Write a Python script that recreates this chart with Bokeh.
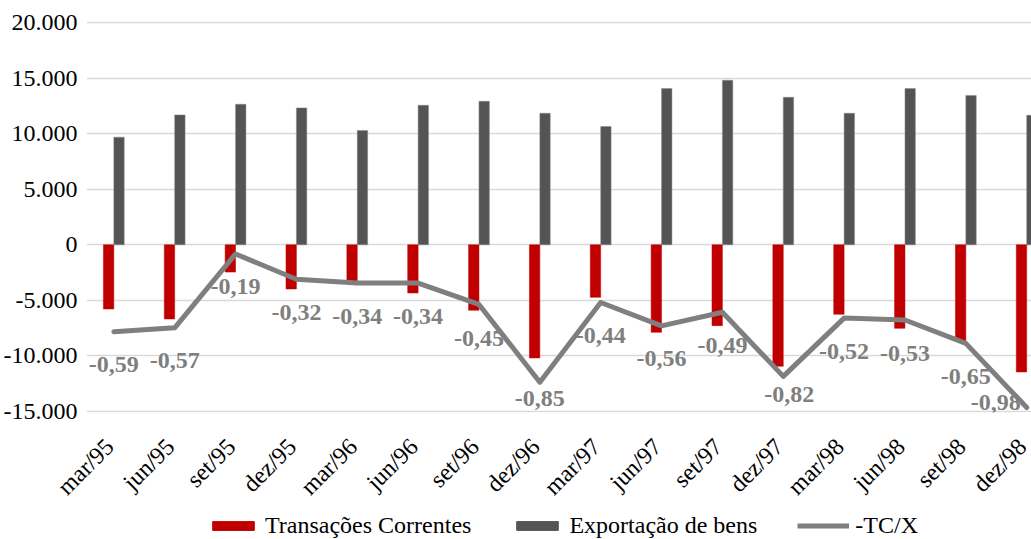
import math
from bokeh.plotting import figure
from bokeh.layouts import column
from bokeh.models import (Range1d, FixedTicker, Legend, LegendItem,
                          ColumnDataSource)
from bokeh.transform import dodge
from bokeh.embed import file_html
from bokeh.resources import INLINE
from bokeh.core.properties import value

categories = ["mar/95", "jun/95", "set/95", "dez/95", "mar/96", "jun/96",
              "set/96", "dez/96", "mar/97", "jun/97", "set/97", "dez/97",
              "mar/98", "jun/98", "set/98", "dez/98"]
transacoes = [-5780, -6680, -2460, -3980, -3330, -4340, -5900, -10190,
              -4730, -7880, -7280, -10940, -6260, -7520, -8660, -11450]
exportacao = [9690, 11690, 12650, 12320, 10290, 12560, 12920, 11840,
              10650, 14060, 14810, 13280, 11840, 14060, 13430, 11660]
tcx = [-0.59, -0.57, -0.19, -0.32, -0.34, -0.34, -0.45, -0.85,
       -0.44, -0.56, -0.49, -0.82, -0.52, -0.53, -0.65, -0.98]
tcx_labels = ["-0,59", "-0,57", "-0,19", "-0,32", "-0,34", "-0,34", "-0,45",
              "-0,85", "-0,44", "-0,56", "-0,49", "-0,82", "-0,52", "-0,53",
              "-0,65", "-0,98"]
y_ticks = [-15000, -10000, -5000, 0, 5000, 10000, 15000, 20000]
y_tick_labels = ["-15.000", "-10.000", "-5.000", "0", "5.000", "10.000",
                 "15.000", "20.000"]
series_names = ["Transações Correntes", "Exportação de bens", "-TC/X"]

# label placement (pixels, screen) -- layout only
label_dx = [0, 0, 0, 0, 0, 0, 0, 0, 0, 0, 0, 6, 0, 0, 0, -31]
label_dy = [33, 33, 33, 33, 33, 33, 34, 16, 33, 33, 33, 18, 33, 33, 33, -5]
x_label_shift = -0.07   # category-label anchor nudge (in category units)

RED, DARK, LINE = "#C00000", "#545454", "#7F7F7F"
FONT = "Liberation Serif"

idx = list(range(len(categories)))
src = ColumnDataSource(dict(idx=idx, tc=transacoes, ex=exportacao,
                            tcx=tcx, lab=tcx_labels,
                            dx=label_dx, dy=label_dy))

p = figure(frame_width=945, frame_height=391,
           x_range=Range1d(-0.449, 15.079), y_range=Range1d(-15100, 20100),
           output_backend="svg", toolbar_location=None,
           min_border_left=86, min_border_right=0, min_border_top=21,
           min_border_bottom=97)
p.extra_y_ranges = {"tcx": Range1d(-1.005714, 1.005714)}
p.outline_line_color = None
p.background_fill_color = "white"

bw = 0.171
p.vbar(x=dodge("idx", -bw / 2, range=p.x_range), top="tc", bottom=0,
       width=bw, source=src, fill_color=RED, line_color=RED, line_width=0.5)
p.vbar(x=dodge("idx", bw / 2, range=p.x_range), top="ex", bottom=0,
       width=bw, source=src, fill_color=DARK, line_color="#8a8a8a",
       line_width=0.5)
p.line(x="idx", y="tcx", source=src, y_range_name="tcx",
       line_color=LINE, line_width=5, line_join="round", line_cap="round")
p.text(x="idx", y="tcx", text="lab", source=src, y_range_name="tcx",
       text_align="center", text_baseline="middle",
       x_offset="dx", y_offset="dy",
       text_font=value(FONT), text_font_style="bold",
       text_font_size="24px", text_color=LINE)

# axes
tick_pos = [i + x_label_shift for i in idx]
xa = p.xaxis[0]
xa.ticker = FixedTicker(ticks=tick_pos)
xa.major_label_overrides = {t: c for t, c in zip(tick_pos, categories)}
xa.major_label_orientation = math.pi / 4
xa.axis_line_color = None
xa.major_tick_line_color = None
xa.minor_tick_line_color = None
xa.major_label_standoff = 24
xa.major_label_text_font = FONT
xa.major_label_text_font_size = "24px"
xa.major_label_text_color = "#000000"

ya = p.yaxis[0]
ya.ticker = FixedTicker(ticks=y_ticks)
ya.major_label_overrides = {t: l for t, l in zip(y_ticks, y_tick_labels)}
ya.axis_line_color = None
ya.major_tick_line_color = None
ya.minor_tick_line_color = None
ya.major_label_standoff = 3
ya.major_label_text_font = FONT
ya.major_label_text_font_size = "24px"
ya.major_label_text_color = "#000000"

p.xgrid.visible = False
p.ygrid.ticker = FixedTicker(ticks=y_ticks)
p.ygrid.grid_line_color = "#D9D9D9"
p.ygrid.grid_line_width = 1.5

# legend strip below the chart (hidden renderers only supply the swatches)
lg = figure(width=1031, height=30, x_range=Range1d(0, 1), y_range=Range1d(0, 1),
            output_backend="svg", toolbar_location=None,
            x_axis_location=None, y_axis_location=None, min_border=0)
lg.outline_line_color = None
lg.xgrid.visible = False
lg.ygrid.visible = False
g1 = lg.vbar(x="idx", top="tc", width=0.1, source=src,
             fill_color=RED, line_color=RED, visible=False)
g2 = lg.vbar(x="idx", top="ex", width=0.1, source=src,
             fill_color=DARK, line_color=DARK, visible=False)
g3 = lg.line(x="idx", y="tcx", source=src, line_color=LINE, line_width=5,
             line_cap="butt", visible=False)
legend = Legend(items=[LegendItem(label=series_names[0], renderers=[g1]),
                       LegendItem(label=series_names[1], renderers=[g2]),
                       LegendItem(label=series_names[2], renderers=[g3])],
                orientation="horizontal", location=(121, 2),
                border_line_color=None, background_fill_alpha=0,
                glyph_width=52, glyph_height=11, label_standoff=6,
                spacing=40, padding=0, margin=0,
                label_text_font=FONT, label_text_font_size="24px",
                label_text_color="#000000")
lg.add_layout(legend, "center")

layout = column(p, lg, spacing=0)
open("out.html", "w").write(file_html(layout, INLINE))
